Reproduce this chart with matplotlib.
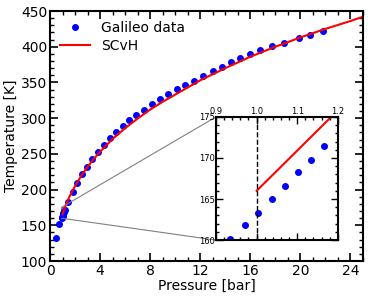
import numpy as np
import matplotlib
matplotlib.use('Agg')
import matplotlib.pyplot as plt
from matplotlib.ticker import MultipleLocator
from mpl_toolkits.axes_grid1.inset_locator import mark_inset

# Galileo probe data
p_gal = [0.45, 0.74, 0.934, 0.972, 1.003, 1.038, 1.07, 1.101, 1.134, 1.166,
         1.47, 1.82, 2.18, 2.55, 2.92, 3.33, 3.8, 4.28, 4.83, 5.31, 5.82,
         6.34, 6.88, 7.52, 8.16, 8.82, 9.46, 10.14, 10.82, 11.54, 12.26,
         13.0, 13.78, 14.48, 15.2, 16.0, 16.8, 17.76, 18.66, 19.86, 20.8, 21.78]
t_gal = [131.8, 151.4, 160.1, 161.8, 163.3, 165.0, 166.6, 168.3, 169.8, 171.5,
         183.0, 196.5, 209.5, 221.5, 232.0, 243.0, 252.8, 262.0, 271.8, 280.5, 288.6,
         297.0, 304.5, 311.9, 319.5, 326.5, 333.5, 340.5, 346.5, 352.5, 359.1,
         365.7, 372.1, 378.3, 384.0, 389.5, 395.1, 400.7, 405.7, 412.3, 416.5, 421.6]

# SCvH adiabat
p_scvh = [1.0, 1.2, 1.3, 1.5, 1.75, 2.0, 2.5, 3.0, 3.5, 4.0, 5.0, 6.0,
          7.0, 8.0, 9.0, 10.0, 12.0, 14.0, 16.0, 18.0, 20.0, 22.0, 24.0, 25.0]
t_scvh = [166.0, 175.8, 180.0, 188.3, 197.0, 205.0, 219.5, 232.0, 243.0,
          253.0, 271.0, 286.0, 299.5, 312.0, 323.0, 333.0, 353.0, 370.0, 386.0,
          400.0, 413.0, 425.0, 436.0, 442.0]

fig = plt.figure(figsize=(3.68, 2.99), dpi=100)
ax = fig.add_axes([0.136, 0.127, 0.850, 0.836])

ax.plot(p_gal, t_gal, 'bo', ms=4, mec='b', label='Galileo data')
ax.plot(p_scvh, t_scvh, 'r-', lw=1.5, label='SCvH')
ax.set_xlim(0, 25)
ax.set_ylim(100, 450)
ax.xaxis.set_major_locator(MultipleLocator(4))
ax.xaxis.set_minor_locator(MultipleLocator(1))
ax.yaxis.set_major_locator(MultipleLocator(50))
ax.yaxis.set_minor_locator(MultipleLocator(10))
ax.tick_params(which='both', direction='in', top=True, right=True, labelsize=10, pad=2)
ax.tick_params(which='major', length=6, width=1.2)
ax.tick_params(which='minor', length=3, width=1)
for s in ax.spines.values():
    s.set_linewidth(1.5)
ax.set_xlabel('Pressure [bar]', fontsize=10, labelpad=1)
ax.set_ylabel('Temperature [K]', fontsize=10, labelpad=2)
ax.legend(loc='upper left', frameon=False, numpoints=1, fontsize=10,
          handlelength=2.2, borderaxespad=0.3, labelspacing=0.3)

# zoomed inset
axin = fig.add_axes([0.587, 0.197, 0.331, 0.412])
axin.plot(p_gal, t_gal, 'bo', ms=4, mec='b')
axin.plot(p_scvh, t_scvh, 'r-', lw=1.5)
axin.axvline(1.0, color='k', ls='--', lw=1)
axin.set_xlim(0.9, 1.2)
axin.set_ylim(160, 175)
axin.xaxis.set_major_locator(MultipleLocator(0.1))
axin.xaxis.set_minor_locator(MultipleLocator(0.02))
axin.yaxis.set_major_locator(MultipleLocator(5))
axin.yaxis.set_minor_locator(MultipleLocator(1))
axin.tick_params(which='both', direction='in', top=True, right=True, bottom=True,
                 labeltop=True, labelbottom=False, labelsize=6, pad=1)
axin.tick_params(which='major', length=5, width=1)
axin.tick_params(which='minor', length=2.5, width=1)
for s in axin.spines.values():
    s.set_linewidth(1.5)

mark_inset(ax, axin, loc1=2, loc2=3, fc='none', ec='0.5', lw=0.8)

fig.savefig('out.png', dpi=100)
